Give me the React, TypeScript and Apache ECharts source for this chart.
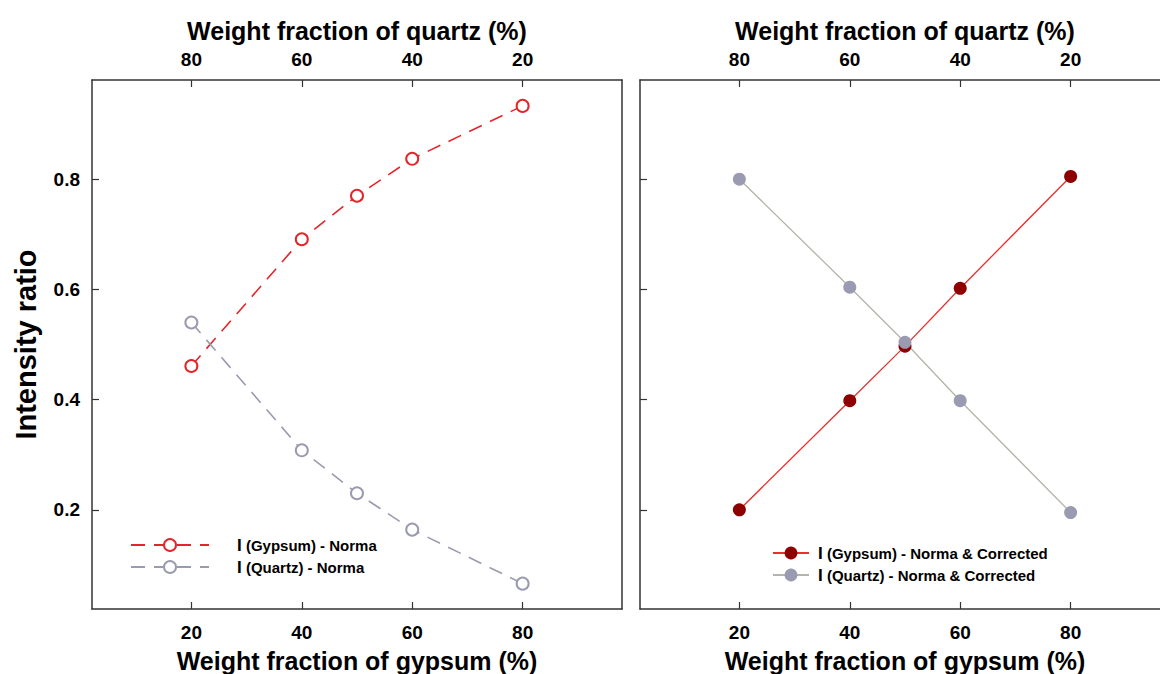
import React, { useEffect, useRef } from "react";
import * as echarts from "echarts";

const gypsumPct = [20, 40, 50, 60, 80];
const gypsumNorma = [0.461, 0.691, 0.77, 0.837, 0.933];
const quartzNorma = [0.54, 0.308, 0.23, 0.164, 0.066];
const gypsumCorrected = [0.2, 0.398, 0.497, 0.602, 0.805];
const quartzCorrected = [0.8, 0.604, 0.504, 0.398, 0.195];
const gypsumTicks = [20, 40, 60, 80];
const quartzTicks = [80, 60, 40, 20];
const ratioTicks = [0.2, 0.4, 0.6, 0.8];

const names = [
  "I (Gypsum) - Norma",
  "I (Quartz) - Norma",
  "I (Gypsum) - Norma & Corrected",
  "I (Quartz) - Norma & Corrected",
];

const FONT = "'Liberation Sans', Arial, sans-serif";
const AXIS_COLOR = "#333";

function pairs(xs: number[], ys: number[]) {
  return xs.map((x, i) => [x, ys[i]]);
}

function xAxisDef(gridIndex: number, position: "top" | "bottom") {
  const top = position === "top";
  return {
    type: "value",
    gridIndex,
    position,
    inverse: top,
    min: 2,
    max: 98,
    name: top ? "Weight fraction of quartz (%)" : "Weight fraction of gypsum (%)",
    nameLocation: "middle",
    nameGap: top ? 37 : 39,
    nameTextStyle: { fontFamily: FONT, fontSize: 25, fontWeight: "bold", color: "#000" },
    axisLine: { show: true, onZero: false, lineStyle: { color: AXIS_COLOR, width: 1.5 } },
    axisTick: {
      show: true,
      inside: true,
      length: 7,
      customValues: top ? quartzTicks : gypsumTicks,
      lineStyle: { color: AXIS_COLOR, width: 1.2 },
    },
    axisLabel: {
      show: true,
      customValues: top ? quartzTicks : gypsumTicks,
      margin: top ? 11 : 14,
      fontFamily: FONT,
      fontSize: 19,
      fontWeight: "bold",
      color: "#000",
    },
    splitLine: { show: false },
  };
}

function yAxisDef(gridIndex: number, position: "left" | "right", labels: boolean) {
  const left = position === "left";
  return {
    type: "value",
    gridIndex,
    position,
    min: 0.02,
    max: 0.98,
    name: left && labels ? "Intensity ratio" : "",
    nameLocation: "middle",
    nameGap: 52,
    nameTextStyle: { fontFamily: FONT, fontSize: 29, fontWeight: "bold", color: "#000" },
    axisLine: { show: true, onZero: false, lineStyle: { color: AXIS_COLOR, width: 1.5 } },
    axisTick: {
      show: left,
      inside: true,
      length: 7,
      customValues: ratioTicks,
      lineStyle: { color: AXIS_COLOR, width: 1.2 },
    },
    axisLabel: {
      show: labels,
      customValues: ratioTicks,
      margin: 12,
      fontFamily: FONT,
      fontSize: 19,
      fontWeight: "bold",
      color: "#000",
      formatter: (v: number) => v.toFixed(1),
    },
    splitLine: { show: false },
  };
}

function legendDef(data: string[], left: number, top: number, width: number, pad: number, h: number) {
  return {
    data,
    orient: "vertical",
    left,
    top,
    padding: 0,
    itemWidth: width,
    itemHeight: h,
    itemGap: 4,
    selectedMode: false,
    formatter: (name: string) => "{b|I}{s| " + name.slice(2) + "}",
    textStyle: {
      padding: [0, 0, 0, pad],
      fontFamily: FONT,
      color: "#000",
      lineHeight: 18,
      rich: {
        b: { fontFamily: FONT, fontSize: 17, fontWeight: "bold", color: "#000", lineHeight: 18 },
        s: { fontFamily: FONT, fontSize: 15, fontWeight: "bold", color: "#000", lineHeight: 18 },
      },
    },
  };
}

export default function App() {
  const ref = useRef<HTMLDivElement>(null);

  useEffect(() => {
    if (!ref.current) return;
    const chart = echarts.init(ref.current, undefined, { renderer: "svg" });
    chart.setOption({
      animation: false,
      backgroundColor: "#fff",
      grid: [
        { left: 92, top: 80, width: 530, height: 529, outerBoundsMode: "none", containLabel: false },
        { left: 640, top: 80, width: 530, height: 529, outerBoundsMode: "none", containLabel: false },
      ],
      xAxis: [
        xAxisDef(0, "bottom"),
        xAxisDef(0, "top"),
        xAxisDef(1, "bottom"),
        xAxisDef(1, "top"),
      ],
      yAxis: [
        yAxisDef(0, "left", true),
        yAxisDef(0, "right", false),
        yAxisDef(1, "left", false),
        yAxisDef(1, "right", false),
      ],
      legend: [
        legendDef([names[0], names[1]], 130, 536, 78, 23, 15),
        legendDef([names[2], names[3]], 772, 544, 36, 4, 16),
      ],
      series: [
        {
          name: names[0],
          type: "line",
          xAxisIndex: 0,
          yAxisIndex: 0,
          data: pairs(gypsumPct, gypsumNorma),
          symbol: "emptyCircle",
          symbolSize: 12,
          lineStyle: { color: "#e3262b", width: 1.6, type: [14, 9] },
          itemStyle: { color: "#e3262b", borderColor: "#e3262b", borderWidth: 1.6 },
        },
        {
          name: names[1],
          type: "line",
          xAxisIndex: 0,
          yAxisIndex: 0,
          data: pairs(gypsumPct, quartzNorma),
          symbol: "emptyCircle",
          symbolSize: 12,
          lineStyle: { color: "#9b9bb0", width: 1.6, type: [14, 9] },
          itemStyle: { color: "#9b9bb0", borderColor: "#9b9bb0", borderWidth: 1.6 },
        },
        {
          name: names[2],
          type: "line",
          xAxisIndex: 2,
          yAxisIndex: 2,
          data: pairs(gypsumPct, gypsumCorrected),
          symbol: "circle",
          symbolSize: 13,
          lineStyle: { color: "#e8302f", width: 1.3 },
          itemStyle: { color: "#8e0000" },
        },
        {
          name: names[3],
          type: "line",
          xAxisIndex: 2,
          yAxisIndex: 2,
          data: pairs(gypsumPct, quartzCorrected),
          symbol: "circle",
          symbolSize: 13,
          lineStyle: { color: "#b4b4ac", width: 1.3 },
          itemStyle: { color: "#9a9ab2" },
        },
      ],
    });
    return () => chart.dispose();
  }, []);

  return (
    <div
      style={{ position: "fixed", left: 0, top: 0, width: 1160, height: 674, overflow: "hidden", background: "#fff" }}
    >
      <div ref={ref} style={{ width: 1190, height: 674 }} />
    </div>
  );
}
